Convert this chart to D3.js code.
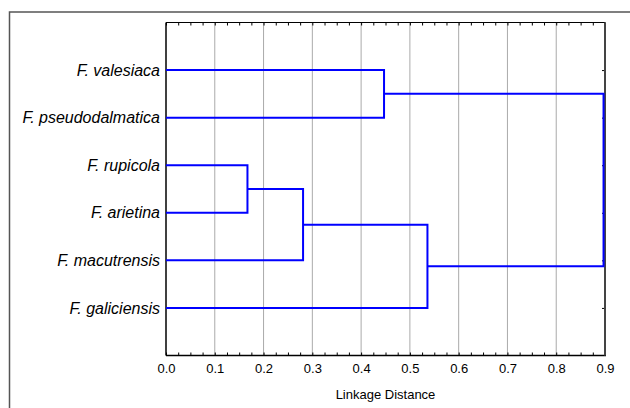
<!DOCTYPE html>
<html><head><meta charset="utf-8">
<script src="https://cdn.jsdelivr.net/npm/d3@7"></script>
<style>body{margin:0;background:#fff}svg{display:block}</style>
</head><body>
<svg id="c" width="630" height="408"></svg>
<script>
// Data
const leaves = ["F. valesiaca","F. pseudodalmatica","F. rupicola","F. arietina","F. macutrensis","F. galiciensis"];
// merges: [childA, childB] where index < 6 refers to leaves, >=6 refers to earlier merges (6 + k)
const mergePairs = [[2,3],[6,4],[0,1],[7,5],[8,9]];
const mergeHeights = [0.167, 0.281, 0.447, 0.536, 0.897];
const xTicks = [0,0.1,0.2,0.3,0.4,0.5,0.6,0.7,0.8,0.9];
const xTitle = "Linkage Distance";

const FONT = "Arial, 'Liberation Sans', sans-serif";
const svg = d3.select("#c");
const L=166, R=605, T=22.5, B=355.5;
const x = d3.scaleLinear().domain([0,0.9]).range([L,R]);
const y = d3.scaleLinear().domain([0,7]).range([T,B]);

// outer frame
svg.append("rect").attr("x",9.5).attr("y",12).attr("width",700).attr("height",500)
  .attr("fill","none").attr("stroke","#555").attr("stroke-width",1.5);

// gridlines
svg.append("g").selectAll("line").data(xTicks.slice(1,-1)).join("line")
  .attr("x1",d=>x(d)).attr("x2",d=>x(d)).attr("y1",T).attr("y2",B)
  .attr("stroke","#555").attr("stroke-width",1).attr("stroke-dasharray","1,1");

// minor ticks
const minor = d3.range(0,0.9001,0.025);
const fmt = d3.format(".1f");
const gb = svg.append("g").attr("transform",`translate(0,${B})`)
  .call(d3.axisBottom(x).tickValues(minor).tickSize(-3).tickFormat(d=>{
    const r=Math.round(d*10)/10; return Math.abs(r-d)<1e-6?fmt(d):"";}).tickPadding(8));
gb.select(".domain").remove();
gb.selectAll("line").attr("stroke","#000");
gb.selectAll("text").attr("font-family",FONT).attr("font-size","13px").attr("fill","#000");
const gt = svg.append("g").attr("transform",`translate(0,${T})`)
  .call(d3.axisTop(x).tickValues(minor).tickSize(-3).tickFormat(""));
gt.select(".domain").remove();
gt.selectAll("line").attr("stroke","#000");
const gr = svg.append("g").attr("transform",`translate(${R},0)`)
  .call(d3.axisRight(y).tickValues(d3.range(1,7)).tickSize(-3).tickFormat(""));
gr.select(".domain").remove();
gr.selectAll("line").attr("stroke","#000");

// plot border
svg.append("line").attr("x1",L).attr("x2",R).attr("y1",T).attr("y2",T).attr("stroke","#000").attr("stroke-width",1.2);
svg.append("line").attr("x1",L).attr("x2",R+1).attr("y1",B).attr("y2",B).attr("stroke","#000").attr("stroke-width",1.5);
svg.append("line").attr("x1",L).attr("x2",L).attr("y1",T).attr("y2",B).attr("stroke","#000").attr("stroke-width",1.5);
svg.append("line").attr("x1",R).attr("x2",R).attr("y1",T).attr("y2",B).attr("stroke","#444").attr("stroke-width",2);

// dendrogram
const nodes = leaves.map((n,i)=>({pos:i+1,h:0}));
const g = svg.append("g").attr("fill","none").attr("stroke","#0000ff").attr("stroke-width",2);
mergePairs.forEach((p,k)=>{
  const a=nodes[p[0]], b=nodes[p[1]], h=mergeHeights[k];
  g.append("path").attr("d",
    `M${x(a.h)},${y(a.pos)}H${x(h)}V${y(b.pos)}H${x(b.h)}`);
  nodes.push({pos:(a.pos+b.pos)/2,h:h});
});

// leaf labels
svg.append("g").selectAll("text").data(leaves).join("text")
  .attr("x",L-6).attr("y",(d,i)=>y(i+1)).attr("dy","0.35em")
  .attr("text-anchor","end").attr("font-style","italic")
  .attr("font-family",FONT).attr("font-size","16px").text(d=>d);

svg.append("text").attr("x",(L+R)/2).attr("y",399).attr("text-anchor","middle")
  .attr("font-family",FONT).attr("font-size","13px").text(xTitle);
</script>
</body></html>
